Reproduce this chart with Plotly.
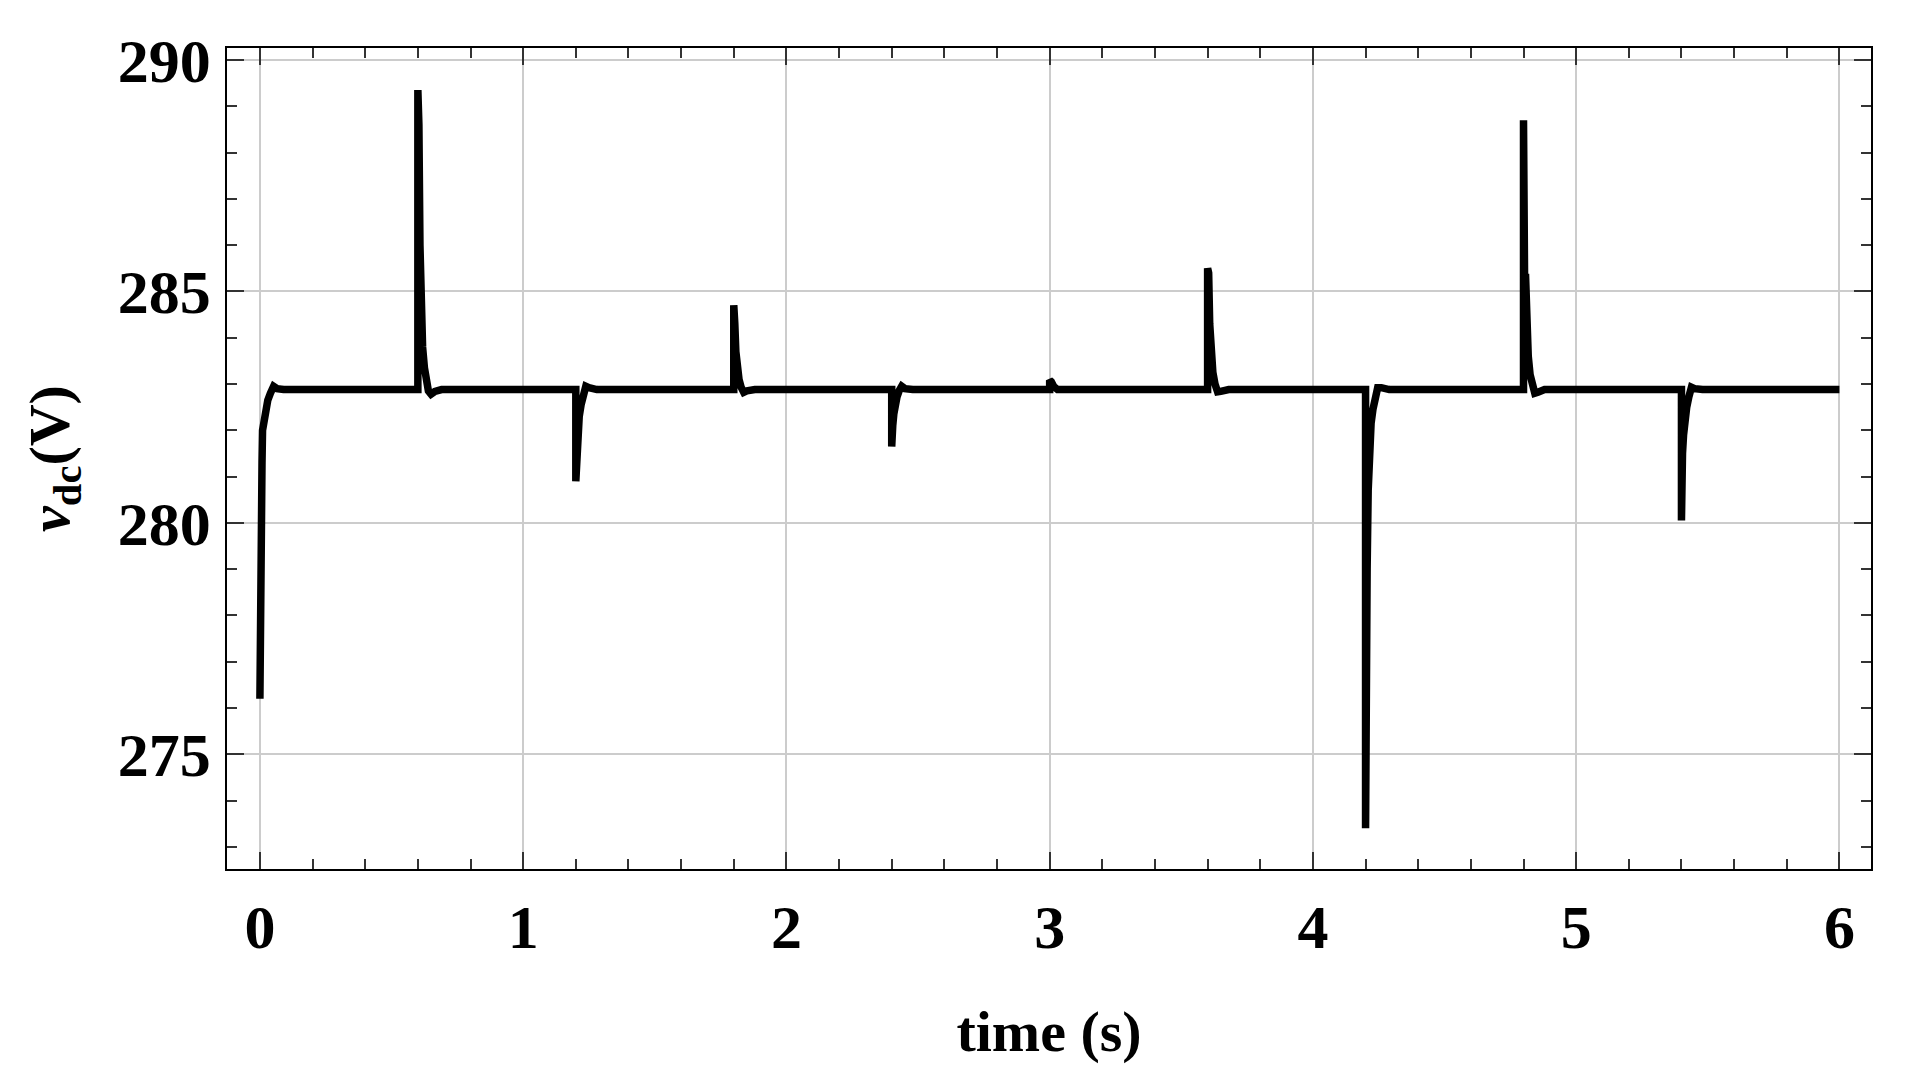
import plotly.graph_objects as go

# ---- data ----
baseline = 282.88
event_times = [0.0, 0.6, 1.2, 1.8, 2.4, 3.0, 3.6, 4.2, 4.8, 5.4]
# recovery profile of each event: offsets (s) after the event and voltages (V)
profile_dt = [
    [0.0, 0.002, 0.008, 0.010, 0.016, 0.022, 0.030, 0.040, 0.052, 0.065, 0.090],
    [0.0, 0.0, 0.004, 0.008, 0.012, 0.018, 0.025, 0.032, 0.040, 0.050, 0.065, 0.090],
    [0.0, 0.0, 0.004, 0.008, 0.013, 0.020, 0.028, 0.038, 0.050, 0.080],
    [0.0, 0.0, 0.004, 0.008, 0.013, 0.020, 0.028, 0.038, 0.050, 0.080],
    [0.0, 0.0, 0.004, 0.008, 0.013, 0.020, 0.028, 0.038, 0.050, 0.080],
    [0.0, 0.0, 0.006, 0.015, 0.030, 0.060],
    [0.0, 0.0, 0.004, 0.008, 0.013, 0.020, 0.028, 0.038, 0.050, 0.080],
    [0.0, 0.0, 0.004, 0.006, 0.010, 0.015, 0.021, 0.028, 0.036, 0.046, 0.060, 0.090],
    [0.0, 0.0, 0.004, 0.008, 0.012, 0.018, 0.025, 0.033, 0.043, 0.055, 0.080],
    [0.0, 0.0, 0.004, 0.008, 0.013, 0.020, 0.028, 0.038, 0.050, 0.080],
]
profile_v = [
    [276.2, 281.3, 281.3, 282.0, 282.2, 282.45, 282.65, 282.8, 282.95, 282.9, 282.88],
    [282.88, 289.35, 288.6, 286.0, 284.6, 283.8, 283.35, 283.05, 282.85, 282.78, 282.84, 282.88],
    [282.88, 280.9, 281.5, 281.95, 282.3, 282.55, 282.75, 282.95, 282.92, 282.88],
    [282.88, 284.7, 284.3, 283.7, 283.35, 283.1, 282.93, 282.82, 282.85, 282.88],
    [282.88, 281.65, 282.1, 282.35, 282.55, 282.72, 282.85, 282.95, 282.9, 282.88],
    [282.88, 283.08, 283.05, 282.95, 282.88, 282.88],
    [282.88, 285.5, 285.4, 284.3, 283.65, 283.25, 283.0, 282.83, 282.84, 282.88],
    [282.88, 273.4, 276.0, 279.0, 280.7, 281.7, 282.15, 282.45, 282.7, 282.92, 282.92, 282.88],
    [282.88, 288.7, 285.3, 285.3, 284.2, 283.6, 283.2, 282.95, 282.8, 282.82, 282.88],
    [282.88, 280.05, 281.5, 281.9, 282.25, 282.5, 282.72, 282.93, 282.9, 282.88],
]
t_end = 6.0

x_ticks = [0, 1, 2, 3, 4, 5, 6]
y_ticks = [275, 280, 285, 290]

# build the series
t, v = [], []
for te, dts, vs in zip(event_times, profile_dt, profile_v):
    for d, val in zip(dts, vs):
        t.append(te + d)
        v.append(val)
t.append(t_end)
v.append(baseline)

FONT = "Liberation Serif"
fig = go.Figure()
fig.add_trace(go.Scatter(x=t, y=v, mode="lines",
                         line=dict(color="black", width=7.5),
                         showlegend=False, hoverinfo="skip"))

axis_common = dict(
    showline=True, linecolor="black", linewidth=1.5, mirror="allticks",
    ticks="inside", ticklen=17, tickwidth=1.5, tickcolor="#333333",
    showgrid=True, gridcolor="#cccccc", gridwidth=2, zeroline=False,
    tickfont=dict(family=FONT, size=62, color="black", weight="bold"),
)
fig.update_xaxes(
    **axis_common, range=[-0.125, 6.12], tickvals=x_ticks,
    minor=dict(dtick=0.2, ticks="inside", ticklen=10, tickwidth=1.5,
               tickcolor="#333333", showgrid=False),
    ticklabelstandoff=3,
    title=dict(text="time (s)", standoff=50,
               font=dict(family=FONT, size=58, color="black", weight="bold")),
)
fig.update_yaxes(
    **axis_common, range=[272.52, 290.26], tickvals=y_ticks,
    minor=dict(dtick=1, ticks="inside", ticklen=10, tickwidth=1.5,
               tickcolor="#333333", showgrid=False),
    ticklabelstandoff=2,
    title=dict(text="<i>v</i><sub>dc</sub>(V)", standoff=30,
               font=dict(family=FONT, size=58, color="black", weight="bold")),
)
fig.update_layout(
    width=1916, height=1084,
    margin=dict(l=219, r=53, t=40, b=223),
    paper_bgcolor="white", plot_bgcolor="white",
)
fig.write_html("out.html")
